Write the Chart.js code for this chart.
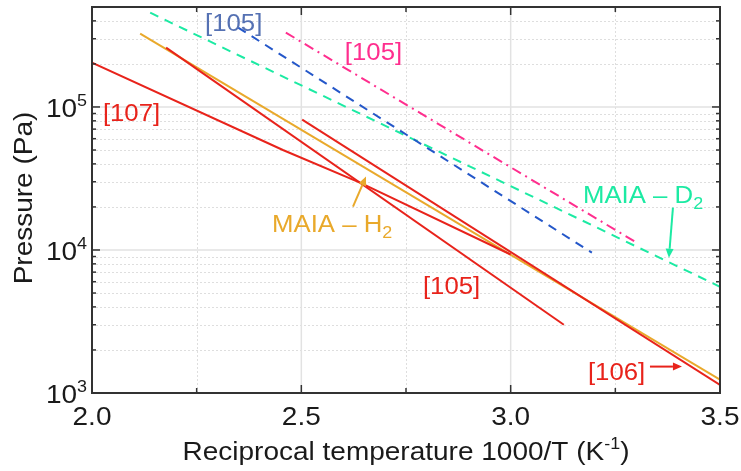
<!DOCTYPE html>
<html>
<head>
<meta charset="utf-8">
<script src="https://cdn.jsdelivr.net/npm/chart.js@4.4.0/dist/chart.umd.min.js"></script>
<style>
  html, body { margin: 0; padding: 0; background: #fff; }
  #wrap { width: 741px; height: 471px; }
</style>
</head>
<body>
<div id="wrap"><canvas id="chart"></canvas></div>
<script>
// axis ticks
const xTickValues = [2.0, 2.5, 3.0, 3.5];
const xTickLabels = ['2.0', '2.5', '3.0', '3.5'];
const xMinorValues = [2.25, 2.75, 3.25];
const yTickValues = [1e3, 1e4, 1e5];
const yTickExps = ['3', '4', '5'];

// series: reciprocal temperature (1000/T) and pressure (Pa)
const ref107X = [2.0, 2.456, 2.64, 3.0];
const ref107P = [2.04e5, 5.0e4, 2.96e4, 9.3e3];
const ref105RedX = [2.177, 3.127];
const ref105RedP = [2.6e5, 3.0e3];
const ref106X = [2.502, 3.5];
const ref106P = [8.15e4, 1.14e3];
const maiaH2X = [2.115, 3.5];
const maiaH2P = [3.26e5, 1.24e3];
const ref105BlueX = [2.349, 3.194];
const ref105BlueP = [3.59e5, 9.57e3];
const maiaD2X = [2.139, 3.5];
const maiaD2P = [4.56e5, 5.53e3];
const ref105PinkX = [2.463, 3.302];
const ref105PinkP = [3.31e5, 1.12e4];

const RED = '#e8231b';
const ORANGE = '#e9a92b';
const BLUE = '#2457c9';
const CYAN = '#1ceaa3';
const PINK = '#ff2e8e';
const FONT = '"Liberation Sans", Arial, sans-serif';
const SX = 1.12; // horizontal text stretch

const pts = (xs, ps) => xs.map((x, i) => ({ x: x, y: ps[i] }));

function line(label, xs, ps, color, dash) {
    return {
        label: label,
        data: pts(xs, ps),
        borderColor: color,
        borderWidth: 2,
        borderDash: dash || [],
        pointRadius: 0,
        fill: false,
        tension: 0,
    };
}

// draws a run of text pieces [text, size, dy] starting at x
function rich(ctx, parts, x, y, color, align) {
    ctx.save();
    ctx.fillStyle = color;
    ctx.textBaseline = 'alphabetic';
    let total = 0;
    parts.forEach(p => { ctx.font = p[1] + 'px ' + FONT; total += ctx.measureText(p[0]).width; });
    let cx = align === 'center' ? -total / 2 : align === 'right' ? -total : 0;
    ctx.translate(x, y);
    ctx.scale(SX, 1);
    parts.forEach(p => {
        ctx.font = p[1] + 'px ' + FONT;
        ctx.fillText(p[0], cx, p[2] || 0);
        cx += ctx.measureText(p[0]).width;
    });
    ctx.restore();
}

function arrow(ctx, x1, y1, x2, y2, color) {
    const a = Math.atan2(y2 - y1, x2 - x1);
    const hl = 9, hw = 4;
    ctx.save();
    ctx.strokeStyle = color;
    ctx.fillStyle = color;
    ctx.lineWidth = 2;
    ctx.beginPath();
    ctx.moveTo(x1, y1);
    ctx.lineTo(x2 - Math.cos(a) * hl, y2 - Math.sin(a) * hl);
    ctx.stroke();
    ctx.beginPath();
    ctx.moveTo(x2, y2);
    ctx.lineTo(x2 - Math.cos(a) * hl - Math.sin(a) * hw, y2 - Math.sin(a) * hl + Math.cos(a) * hw);
    ctx.lineTo(x2 - Math.cos(a) * hl + Math.sin(a) * hw, y2 - Math.sin(a) * hl - Math.cos(a) * hw);
    ctx.closePath();
    ctx.fill();
    ctx.restore();
}

const framePlugin = {
    id: 'frame',
    beforeDatasetsDraw(chart) {
        const { ctx, chartArea: a, scales: { x, y } } = chart;
        ctx.save();
        ctx.lineWidth = 1;
        // minor grid, dashed
        ctx.strokeStyle = '#dedede';
        ctx.setLineDash([2, 2]);
        xMinorValues.forEach(v => {
            const px = Math.round(x.getPixelForValue(v)) + 0.5;
            ctx.beginPath(); ctx.moveTo(px, a.top); ctx.lineTo(px, a.bottom); ctx.stroke();
        });
        for (let d = 1e3; d < 1e6; d *= 10) {
            for (let m = 2; m <= 9; m++) {
                const v = d * m;
                if (v >= y.max) break;
                const py = Math.round(y.getPixelForValue(v)) + 0.5;
                ctx.beginPath(); ctx.moveTo(a.left, py); ctx.lineTo(a.right, py); ctx.stroke();
            }
        }
        // major grid, solid
        ctx.setLineDash([]);
        ctx.strokeStyle = '#e2e2e2';
        ctx.lineWidth = 1.5;
        xTickValues.slice(1, -1).forEach(v => {
            const px = x.getPixelForValue(v);
            ctx.beginPath(); ctx.moveTo(px, a.top); ctx.lineTo(px, a.bottom); ctx.stroke();
        });
        yTickValues.slice(1).forEach(v => {
            const py = y.getPixelForValue(v);
            ctx.beginPath(); ctx.moveTo(a.left, py); ctx.lineTo(a.right, py); ctx.stroke();
        });
        ctx.restore();
    },
    afterDatasetsDraw(chart) {
        const { ctx, chartArea: a, scales: { x, y } } = chart;
        ctx.save();
        // frame
        ctx.strokeStyle = '#333';
        ctx.lineWidth = 2;
        ctx.strokeRect(a.left, a.top, a.right - a.left, a.bottom - a.top);
        // inward tick marks
        ctx.lineWidth = 1.5;
        const tick = (x1, y1, x2, y2) => { ctx.beginPath(); ctx.moveTo(x1, y1); ctx.lineTo(x2, y2); ctx.stroke(); };
        xTickValues.forEach(v => {
            const px = x.getPixelForValue(v);
            tick(px, a.bottom, px, a.bottom - 8);
            tick(px, a.top, px, a.top + 8);
        });
        xMinorValues.forEach(v => {
            const px = x.getPixelForValue(v);
            tick(px, a.bottom, px, a.bottom - 5);
            tick(px, a.top, px, a.top + 5);
        });
        for (let d = 1e3; d < 1e6; d *= 10) {
            for (let m = 1; m <= 9; m++) {
                const v = d * m;
                if (v > y.max) break;
                const py = y.getPixelForValue(v);
                const len = m === 1 ? 8 : 4;
                tick(a.left, py, a.left + len, py);
                tick(a.right, py, a.right - len, py);
            }
        }
        ctx.restore();

        // tick labels
        xTickValues.forEach((v, i) => {
            rich(ctx, [[xTickLabels[i], 25]], x.getPixelForValue(v), a.bottom + 32, '#1a1a1a', 'center');
        });
        yTickValues.forEach((v, i) => {
            const py = y.getPixelForValue(v);
            rich(ctx, [['10', 25], [yTickExps[i], 16, -11]], a.left - 5, py + 10, '#1a1a1a', 'right');
        });

        // axis titles
        rich(ctx, [['Reciprocal temperature 1000/T (K', 25], ['-1', 16, -11], [')', 25]],
            406, a.bottom + 67, '#1a1a1a', 'center');
        ctx.save();
        ctx.translate(32, 198);
        ctx.rotate(-Math.PI / 2);
        rich(ctx, [['Pressure (Pa)', 25]], 0, 0, '#1a1a1a', 'center');
        ctx.restore();

        // annotations (positioned in data coordinates)
        const X = v => x.getPixelForValue(v);
        const Y = v => y.getPixelForValue(v);
        rich(ctx, [['[105]', 23]], X(2.270), Y(3.42e5), '#5571b3', 'left');
        rich(ctx, [['[105]', 23]], X(2.604), Y(2.14e5), PINK, 'left');
        rich(ctx, [['[107]', 23]], X(2.026), Y(7.98e4), RED, 'left');
        rich(ctx, [['MAIA \u2013 H', 23], ['2', 16, 6]], X(2.430), Y(1.34e4), ORANGE, 'left');
        rich(ctx, [['[105]', 23]], X(2.7905), Y(4.94e3), RED, 'left');
        rich(ctx, [['MAIA \u2013 D', 23], ['2', 16, 6]], X(3.1727), Y(2.14e4), CYAN, 'left');
        rich(ctx, [['[106]', 23]], X(3.1846), Y(1.24e3), RED, 'left');
        arrow(ctx, X(2.6234), Y(2.01e4), X(2.6544), Y(3.26e4), ORANGE);
        arrow(ctx, X(3.3876), Y(1.98e4), X(3.378), Y(8.83e3), CYAN);
        arrow(ctx, X(3.3327), Y(1.53e3), X(3.4091), Y(1.53e3), RED);
    }
};

new Chart(document.getElementById('chart'), {
    type: 'line',
    data: {
        datasets: [
            line('[105]', ref105RedX, ref105RedP, RED),
            line('[106]', ref106X, ref106P, RED),
            line('[107]', ref107X, ref107P, RED),
            line('MAIA - H2', maiaH2X, maiaH2P, ORANGE),
            line('[105] blue', ref105BlueX, ref105BlueP, BLUE, [9, 7]),
            line('[105] pink', ref105PinkX, ref105PinkP, PINK, [10, 5, 2, 5]),
            line('MAIA - D2', maiaD2X, maiaD2P, CYAN, [9, 7]),
        ],
    },
    options: {
        responsive: true,
        maintainAspectRatio: false,
        animation: false,
        layout: { padding: { top: 7, right: 21, left: 0, bottom: 0 } },
        plugins: { legend: { display: false }, tooltip: { enabled: false } },
        scales: {
            x: {
                type: 'linear',
                min: 2.0,
                max: 3.5,
                grid: { display: false },
                border: { display: false },
                ticks: { display: false },
                afterFit: s => { s.height = 78; },
            },
            y: {
                type: 'logarithmic',
                min: 1e3,
                max: 5e5,
                grid: { display: false },
                border: { display: false },
                ticks: { display: false },
                afterFit: s => { s.width = 92; },
            },
        },
    },
    plugins: [framePlugin],
});
</script>
</body>
</html>
